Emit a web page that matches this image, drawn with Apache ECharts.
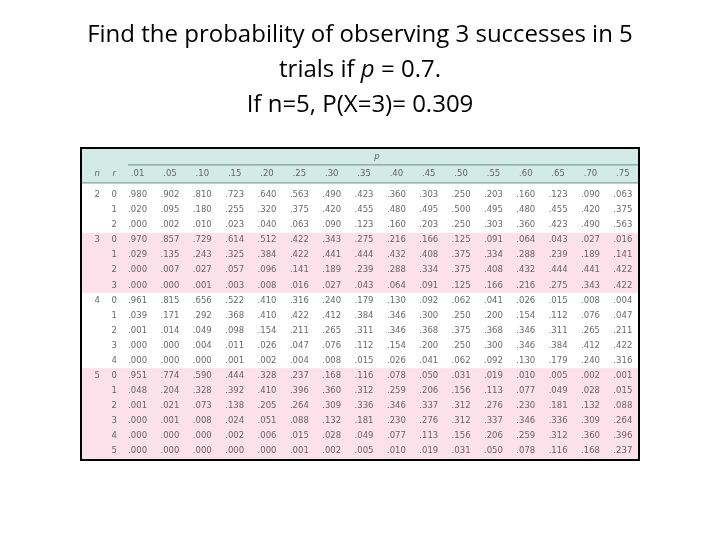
<!DOCTYPE html>
<html><head><meta charset="utf-8">
<script src="https://cdn.jsdelivr.net/npm/echarts@6/dist/echarts.min.js"></script>
<style>html,body{margin:0;padding:0;background:#fff}#c{width:720px;height:540px}</style>
</head><body><div id="c"></div>
<script>
const pLabels = ['.01','.05','.10','.15','.20','.25','.30','.35','.40','.45','.50','.55','.60','.65','.70','.75'];
const n2 = [
'.980 .902 .810 .723 .640 .563 .490 .423 .360 .303 .250 .203 .160 .123 .090 .063',
'.020 .095 .180 .255 .320 .375 .420 .455 .480 .495 .500 .495 .480 .455 .420 .375',
'.000 .002 .010 .023 .040 .063 .090 .123 .160 .203 .250 .303 .360 .423 .490 .563'];
const n3 = [
'.970 .857 .729 .614 .512 .422 .343 .275 .216 .166 .125 .091 .064 .043 .027 .016',
'.029 .135 .243 .325 .384 .422 .441 .444 .432 .408 .375 .334 .288 .239 .189 .141',
'.000 .007 .027 .057 .096 .141 .189 .239 .288 .334 .375 .408 .432 .444 .441 .422',
'.000 .000 .001 .003 .008 .016 .027 .043 .064 .091 .125 .166 .216 .275 .343 .422'];
const n4 = [
'.961 .815 .656 .522 .410 .316 .240 .179 .130 .092 .062 .041 .026 .015 .008 .004',
'.039 .171 .292 .368 .410 .422 .412 .384 .346 .300 .250 .200 .154 .112 .076 .047',
'.001 .014 .049 .098 .154 .211 .265 .311 .346 .368 .375 .368 .346 .311 .265 .211',
'.000 .000 .004 .011 .026 .047 .076 .112 .154 .200 .250 .300 .346 .384 .412 .422',
'.000 .000 .000 .001 .002 .004 .008 .015 .026 .041 .062 .092 .130 .179 .240 .316'];
const n5 = [
'.951 .774 .590 .444 .328 .237 .168 .116 .078 .050 .031 .019 .010 .005 .002 .001',
'.048 .204 .328 .392 .410 .396 .360 .312 .259 .206 .156 .113 .077 .049 .028 .015',
'.001 .021 .073 .138 .205 .264 .309 .336 .346 .337 .312 .276 .230 .181 .132 .088',
'.000 .001 .008 .024 .051 .088 .132 .181 .230 .276 .312 .337 .346 .336 .309 .264',
'.000 .000 .000 .002 .006 .015 .028 .049 .077 .113 .156 .206 .259 .312 .360 .396',
'.000 .000 .000 .000 .000 .001 .002 .005 .010 .019 .031 .050 .078 .116 .168 .237'];
const blocks = [[2,n2],[3,n3],[4,n4],[5,n5]];

const X_N = -1.25, X_R = -0.72, Y_P = -2.52, Y_HEAD = -1.39;
const XMIN=-1.75, XMAX=15.5, YMIN=-3.12, YMAX=17.6;
const cells = [];
const bands = [[YMIN,-0.8,'#d3ebe6']];
let row = 0;
blocks.forEach(([n, rows], bi) => {
  if (bi % 2 === 1) bands.push([row - 0.5, Math.min(YMAX, row + rows.length - 0.5 + (bi === 3 ? 1 : 0)), '#fce1ea']);
  rows.forEach((s, r) => {
    if (r === 0) cells.push({value:[X_N, row], label:{formatter:String(n)}});
    cells.push({value:[X_R, row], label:{formatter:String(r)}});
    s.split(' ').forEach((v, j) => cells.push({value:[j, row], label:{formatter:v}}));
    row++;
  });
});
const headsItalic = [{value:[X_N,Y_HEAD],label:{formatter:'n'}},{value:[X_R,Y_HEAD],label:{formatter:'r'}},{value:[7.4,Y_P],label:{formatter:'p'}}];
const heads = pLabels.map((p,j)=>({value:[j,Y_HEAD],label:{formatter:p}}));
const lbl = {show:true,position:'inside',fontFamily:'DejaVu Sans',fontSize:8.5,color:'#444'};

const chart = echarts.init(document.getElementById('c'));
chart.setOption({
  animation:false,
  title:{left:'center',top:13,itemGap:0,
    text:'Find the probability of observing 3 successes in 5\ntrials if {i|p} = 0.7.\nIf n=5, P(X=3)= 0.309',
    textStyle:{fontFamily:'Open Sans',fontSize:24,fontWeight:'normal',color:'#000',lineHeight:35,
      rich:{i:{fontFamily:'Open Sans',fontSize:24,fontStyle:'italic',lineHeight:35}}}},
  grid:{left:81,right:81,top:148,bottom:80},
  xAxis:{type:'value',min:XMIN,max:XMAX,show:false},
  yAxis:{type:'value',min:YMIN,max:YMAX,inverse:true,show:false},
  series:[
    {type:'custom',silent:true,z:1,data:bands,
     renderItem:(params,api)=>{
       const a=api.coord([XMIN,api.value(0)]), b=api.coord([XMAX,api.value(1)]);
       return {type:'rect',shape:{x:a[0],y:a[1],width:b[0]-a[0],height:b[1]-a[1]},style:{fill:bands[params.dataIndex][2]}};
     }},
    {type:'custom',silent:true,z:2,data:[[-0.3,XMAX,-2.0],[XMIN,XMAX,-0.8]],
     renderItem:(params,api)=>{
       const a=api.coord([api.value(0),api.value(2)]), b=api.coord([api.value(1),api.value(2)]);
       return {type:'line',shape:{x1:a[0],y1:a[1],x2:b[0],y2:b[1]},style:{stroke:'#6b8f88',lineWidth:1}};
     }},
    {type:'custom',silent:true,z:5,data:[[XMIN,YMIN,XMAX,YMAX]],
     renderItem:(params,api)=>{
       const a=api.coord([api.value(0),api.value(1)]), b=api.coord([api.value(2),api.value(3)]);
       return {type:'rect',shape:{x:a[0],y:a[1],width:b[0]-a[0],height:b[1]-a[1]},style:{fill:'none',stroke:'#000',lineWidth:2}};
     }},
    {type:'scatter',symbolSize:0,z:3,data:cells,label:lbl},
    {type:'scatter',symbolSize:0,z:3,data:heads,label:lbl},
    {type:'scatter',symbolSize:0,z:3,data:headsItalic,label:Object.assign({},lbl,{fontStyle:'italic'})}
  ]
});
</script></body></html>
